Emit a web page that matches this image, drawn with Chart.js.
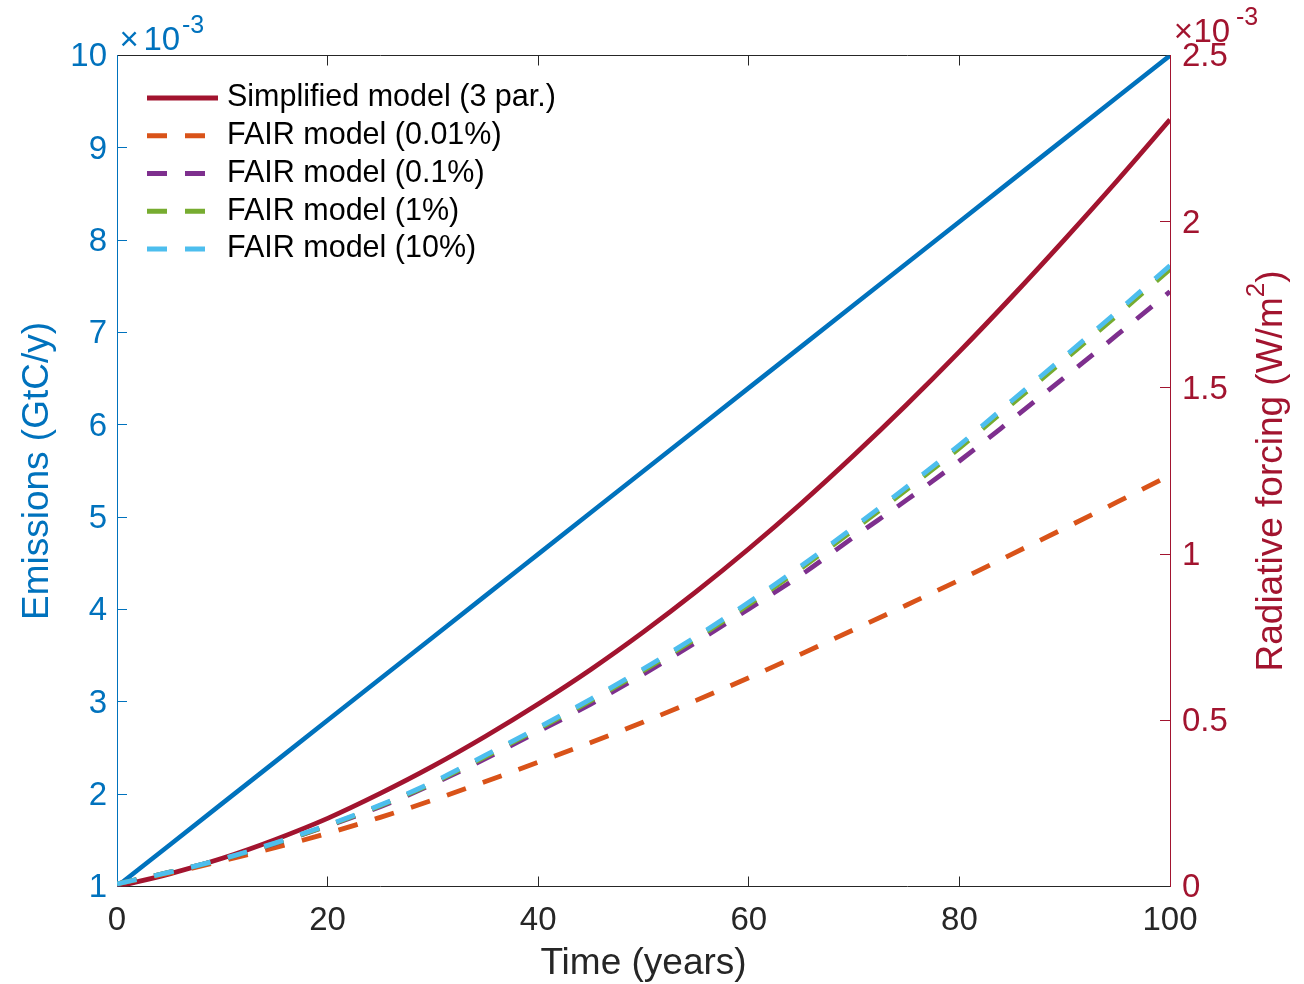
<!DOCTYPE html>
<html>
<head>
<meta charset="utf-8">
<script src="https://cdn.jsdelivr.net/npm/chart.js@4/dist/chart.umd.min.js"></script>
<style>
html,body{margin:0;padding:0;background:#ffffff;}
canvas{display:block;}
</style>
</head>
<body>
<canvas id="c" width="1304" height="984"></canvas>
<script>
// ---- data ----
const TIME = [0,5,10,15,20,25,30,35,40,45,50,55,60,65,70,75,80,85,90,95,100];
// Emissions, x10^-3 GtC/y (left axis)
const EMISSIONS = [1.00,1.45,1.90,2.35,2.80,3.25,3.70,4.15,4.60,5.05,5.50,5.95,6.40,6.85,7.30,7.75,8.20,8.65,9.10,9.55,10.00];
// Radiative forcing, x10^-3 W/m^2 (right axis)
const SIMPLIFIED = [0.000,0.038,0.085,0.141,0.205,0.280,0.362,0.452,0.549,0.653,0.766,0.887,1.016,1.153,1.298,1.450,1.609,1.775,1.947,2.124,2.307];
const FAIR_0_01 = [0.008,0.040,0.077,0.117,0.160,0.208,0.260,0.316,0.374,0.433,0.495,0.560,0.628,0.700,0.773,0.847,0.922,1.000,1.078,1.157,1.237];
const FAIR_0_1  = [0.008,0.043,0.082,0.129,0.182,0.240,0.308,0.385,0.466,0.549,0.639,0.735,0.835,0.938,1.052,1.163,1.280,1.405,1.532,1.660,1.790];
const FAIR_1    = [0.008,0.043,0.082,0.130,0.183,0.243,0.311,0.391,0.474,0.559,0.650,0.746,0.848,0.958,1.074,1.194,1.319,1.452,1.585,1.719,1.857];
const FAIR_10   = [0.008,0.043,0.083,0.131,0.185,0.245,0.314,0.395,0.478,0.564,0.655,0.752,0.855,0.965,1.082,1.202,1.328,1.462,1.595,1.730,1.868];

const SERIES_NAMES = ['Emissions','Simplified model (3 par.)','FAIR model (0.01%)','FAIR model (0.1%)','FAIR model (1%)','FAIR model (10%)'];
const X_TICKS = [0,20,40,60,80,100];
const LEFT_TICKS = [1,2,3,4,5,6,7,8,9,10];
const RIGHT_TICKS = [0,0.5,1,1.5,2,2.5];
const X_TITLE = 'Time (years)';
const LEFT_TITLE = 'Emissions (GtC/y)';
const RIGHT_TITLE_PARTS = ['Radiative forcing (W/m', '2', ')'];

// ---- styles ----
const FONT = "'Liberation Sans', Arial, Helvetica, sans-serif";
const BLUE = '#0072BD', RED = '#A2142F', ORANGE = '#D95319', PURPLE = '#7E2F8E',
      GREEN = '#77AC30', CYAN = '#4DBEEE', AX = '#262626';
const DASH = [20, 18];
const TICK_FONT = {family: FONT, size: 33};
const TITLE_FONT = {family: FONT, size: 37};

const pts = arr => TIME.map((t, i) => ({x: t, y: arr[i]}));
const fixTicks = list => (scale) => { scale.ticks = list.map(v => ({value: v})); };

const base = {pointRadius: 0, pointHoverRadius: 0, fill: false, cubicInterpolationMode: 'monotone',
              borderCapStyle: 'butt', borderJoinStyle: 'round', xAxisID: 'x'};

const datasets = [
  Object.assign({label: SERIES_NAMES[0], data: pts(EMISSIONS), yAxisID: 'yL', borderColor: BLUE, borderWidth: 4.6, order: 5}, base),
  Object.assign({label: SERIES_NAMES[1], data: pts(SIMPLIFIED), yAxisID: 'yR', borderColor: RED, borderWidth: 4.8, order: 4}, base),
  Object.assign({label: SERIES_NAMES[2], data: pts(FAIR_0_01), yAxisID: 'yR', borderColor: ORANGE, borderWidth: 4.8, borderDash: DASH, order: 3}, base),
  Object.assign({label: SERIES_NAMES[3], data: pts(FAIR_0_1), yAxisID: 'yR', borderColor: PURPLE, borderWidth: 4.8, borderDash: DASH, order: 2}, base),
  Object.assign({label: SERIES_NAMES[4], data: pts(FAIR_1), yAxisID: 'yR', borderColor: GREEN, borderWidth: 4.8, borderDash: DASH, order: 1}, base),
  Object.assign({label: SERIES_NAMES[5], data: pts(FAIR_10), yAxisID: 'yR', borderColor: CYAN, borderWidth: 4.8, borderDash: DASH, order: 0}, base)
];

// legend drawn inside the plot box (MATLAB style, no frame)
const insideLegend = {
  id: 'insideLegend',
  afterDatasetsDraw(chart) {
    const {ctx, chartArea: ca} = chart;
    ctx.save();
    chart.data.datasets.slice(1).forEach((d, i) => {
      const y = ca.top + 42.5 + i * 37.75;
      ctx.strokeStyle = d.borderColor;
      ctx.lineWidth = 5;
      ctx.lineCap = 'butt';
      ctx.setLineDash(d.borderDash || []);
      ctx.beginPath();
      ctx.moveTo(ca.left + 30, y);
      ctx.lineTo(ca.left + 101, y);
      ctx.stroke();
      ctx.setLineDash([]);
      ctx.fillStyle = '#000000';
      ctx.font = '30.5px ' + FONT;
      ctx.textAlign = 'left';
      ctx.textBaseline = 'middle';
      ctx.fillText(d.label, ca.left + 110, y);
    });
    ctx.restore();
  }
};

// "×10^-3" exponent labels of both y axes, and the right axis title (reads upward, MATLAB style)
const axisExtras = {
  id: 'axisExtras',
  afterDraw(chart) {
    const {ctx, chartArea: ca} = chart;
    ctx.save();
    ctx.textAlign = 'left';
    ctx.textBaseline = 'alphabetic';
    // left axis exponent
    ctx.fillStyle = BLUE;
    ctx.font = '33px ' + FONT;
    ctx.fillText('×', ca.left + 2.4, ca.top - 5.5);
    ctx.fillText('10', ca.left + 26.4, ca.top - 5.5);
    ctx.font = '25px ' + FONT;
    ctx.fillText('-3', ca.left + 65, ca.top - 22.5);
    // right axis exponent
    ctx.fillStyle = RED;
    ctx.font = '33px ' + FONT;
    ctx.fillText('×', ca.right + 3.7, ca.top - 13.8);
    ctx.fillText('10', ca.right + 23.4, ca.top - 13.8);
    ctx.font = '25px ' + FONT;
    ctx.fillText('-3', ca.right + 66, ca.top - 30.5);
    ctx.restore();

    // right axis title, rotated to read bottom-to-top
    ctx.save();
    ctx.fillStyle = RED;
    ctx.textAlign = 'left';
    ctx.textBaseline = 'alphabetic';
    const mainFont = '37px ' + FONT, supFont = '26px ' + FONT;
    ctx.font = mainFont; const w1 = ctx.measureText(RIGHT_TITLE_PARTS[0]).width;
    ctx.font = supFont;  const w2 = ctx.measureText(RIGHT_TITLE_PARTS[1]).width;
    ctx.font = mainFont; const w3 = ctx.measureText(RIGHT_TITLE_PARTS[2]).width;
    const total = w1 + w2 + w3;
    ctx.translate(ca.right + 111.7, (ca.top + ca.bottom) / 2);
    ctx.rotate(-Math.PI / 2);
    let x = -total / 2;
    ctx.font = mainFont; ctx.fillText(RIGHT_TITLE_PARTS[0], x, 0); x += w1;
    ctx.font = supFont;  ctx.fillText(RIGHT_TITLE_PARTS[1], x, -18); x += w2;
    ctx.font = mainFont; ctx.fillText(RIGHT_TITLE_PARTS[2], x, 0);
    ctx.restore();
  }
};

new Chart(document.getElementById('c'), {
  type: 'line',
  data: {datasets},
  options: {
    responsive: false,
    animation: false,
    events: [],
    layout: {padding: {top: 55.5, left: 0, right: 0, bottom: 0}},
    plugins: {legend: {display: false}, tooltip: {enabled: false}},
    scales: {
      x: {
        type: 'linear', position: 'bottom', min: 0, max: 100,
        afterBuildTicks: fixTicks(X_TICKS),
        afterFit: s => { s.height = 97.5; },
        grid: {drawOnChartArea: false, tickLength: -10, color: AX, tickColor: AX, lineWidth: 1},
        border: {display: true, color: AX, width: 1},
        ticks: {color: AX, font: TICK_FONT, padding: 25, maxRotation: 0, autoSkip: false, callback: v => String(v)},
        title: {display: true, text: X_TITLE, color: AX, font: TITLE_FONT, padding: {top: 0, bottom: -2}}
      },
      xTop: {
        type: 'linear', position: 'top', min: 0, max: 100,
        afterBuildTicks: fixTicks(X_TICKS),
        afterFit: s => { s.height = 0; },
        grid: {drawOnChartArea: false, tickLength: -10, color: AX, tickColor: AX, lineWidth: 1},
        border: {display: true, color: AX, width: 1},
        ticks: {display: false}
      },
      yL: {
        type: 'linear', position: 'left', min: 1, max: 10,
        afterBuildTicks: fixTicks(LEFT_TICKS),
        afterFit: s => { s.width = 117; },
        grid: {drawOnChartArea: false, tickLength: -10, color: BLUE, tickColor: BLUE, lineWidth: 1},
        border: {display: true, color: BLUE, width: 1},
        ticks: {color: BLUE, font: TICK_FONT, padding: 20, labelOffset: 1.8, autoSkip: false, callback: v => String(v)},
        title: {display: true, text: LEFT_TITLE, color: BLUE, font: TITLE_FONT, padding: {top: 15.5, bottom: 0}}
      },
      yR: {
        type: 'linear', position: 'right', min: 0, max: 2.5,
        afterBuildTicks: fixTicks(RIGHT_TICKS),
        afterFit: s => { s.width = 134; },
        grid: {drawOnChartArea: false, tickLength: -10, color: RED, tickColor: RED, lineWidth: 1},
        border: {display: true, color: RED, width: 1},
        ticks: {color: RED, font: TICK_FONT, padding: 22, labelOffset: 1.8, autoSkip: false, callback: v => String(v)},
        title: {display: false}
      }
    }
  },
  plugins: [insideLegend, axisExtras]
});
</script>
</body>
</html>
